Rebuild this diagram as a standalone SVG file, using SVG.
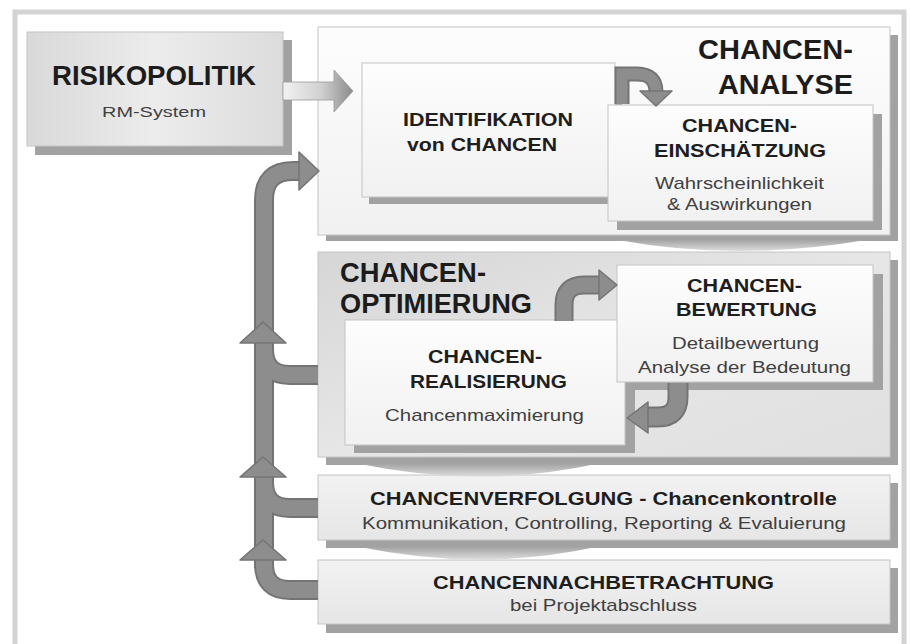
<svg xmlns="http://www.w3.org/2000/svg" width="910" height="644" viewBox="0 0 910 644">
<defs>
<linearGradient id="gRisk" x1="0" y1="0" x2="1" y2="0">
<stop offset="0" stop-color="#d9d9d9"/><stop offset="0.5" stop-color="#ececec"/><stop offset="1" stop-color="#dcdcdc"/>
</linearGradient>
<linearGradient id="gWhite" x1="0" y1="0" x2="0" y2="1">
<stop offset="0" stop-color="#fdfdfd"/><stop offset="1" stop-color="#f1f1f1"/>
</linearGradient>
<linearGradient id="gOpt" x1="0" y1="0" x2="1" y2="1">
<stop offset="0" stop-color="#d6d6d6"/><stop offset="0.5" stop-color="#e6e6e6"/><stop offset="1" stop-color="#e0e0e0"/>
</linearGradient>
<linearGradient id="gBar" x1="0" y1="0" x2="0" y2="1">
<stop offset="0" stop-color="#f2f2f2"/><stop offset="1" stop-color="#e6e6e6"/>
</linearGradient>
<linearGradient id="gArrow" x1="0" y1="0" x2="1" y2="0">
<stop offset="0" stop-color="#f2f2f2"/><stop offset="0.55" stop-color="#d0d0d0"/><stop offset="1" stop-color="#8a8a8a"/>
</linearGradient>
<linearGradient id="gWedge" x1="0" y1="0" x2="0" y2="1">
<stop offset="0" stop-color="#a4a4a4"/><stop offset="1" stop-color="#dcdcdc"/>
</linearGradient>
</defs>
<style>
.sh{fill:#a2a2a2}
.bx{stroke:#c4c4c4;stroke-width:1}
.big{font-family:"Liberation Sans",Arial,sans-serif;font-weight:bold;font-size:27px;fill:#1c1c1c}
.hd{font-family:"Liberation Sans",Arial,sans-serif;font-weight:bold;font-size:19px;fill:#1e1e1e}
.bd{font-family:"Liberation Sans",Arial,sans-serif;font-size:17px;fill:#404040}
.ao{fill:none;stroke:#747474;stroke-width:20}
.af{fill:none;stroke:#8d8d8d;stroke-width:16}
.ah{fill:#8d8d8d;stroke:#747474;stroke-width:1.5;stroke-linejoin:round}
</style>
<rect x="0" y="0" width="910" height="644" fill="#ffffff"/>
<rect x="15" y="12" width="889" height="660" fill="#ffffff" stroke="#d3d3d3" stroke-width="5"/>

<g id="node-analyse">
<rect class="sh" x="326" y="35" width="572" height="206"/>
<rect class="bx" x="318" y="27" width="572" height="208" fill="url(#gWhite)"/>
<text class="big" x="698" y="59" textLength="155" lengthAdjust="spacingAndGlyphs">CHANCEN-</text>
<text class="big" x="718" y="94" textLength="135" lengthAdjust="spacingAndGlyphs">ANALYSE</text>
</g>

<g id="node-optimierung">
<rect class="sh" x="326" y="260" width="572" height="205"/>
<rect class="bx" x="318" y="252" width="572" height="205" fill="url(#gOpt)"/>
<text class="big" x="340" y="282" textLength="146" lengthAdjust="spacingAndGlyphs">CHANCEN-</text>
<text class="big" x="340" y="313" textLength="192" lengthAdjust="spacingAndGlyphs">OPTIMIERUNG</text>
</g>

<g id="node-verfolgung">
<rect class="sh" x="326" y="483" width="572" height="65"/>
<rect class="bx" x="318" y="475" width="572" height="65" fill="url(#gBar)"/>
<text class="hd" x="370" y="505" textLength="467" lengthAdjust="spacingAndGlyphs">CHANCENVERFOLGUNG - Chancenkontrolle</text>
<text class="bd" x="362" y="529" textLength="484" lengthAdjust="spacingAndGlyphs">Kommunikation, Controlling, Reporting &amp; Evaluierung</text>
</g>

<g id="node-nachbetrachtung">
<rect class="sh" x="326" y="568" width="572" height="65"/>
<rect class="bx" x="318" y="560" width="572" height="64" fill="url(#gBar)"/>
<text class="hd" x="433" y="589" textLength="341" lengthAdjust="spacingAndGlyphs">CHANCENNACHBETRACHTUNG</text>
<text class="bd" x="510" y="611" textLength="187" lengthAdjust="spacingAndGlyphs">bei Projektabschluss</text>
</g>

<g id="node-risikopolitik">
<rect class="sh" x="35" y="40" width="257" height="115"/>
<rect class="bx" x="27" y="32" width="256" height="114" fill="url(#gRisk)"/>
<text class="big" x="52" y="85" textLength="204" lengthAdjust="spacingAndGlyphs">RISIKOPOLITIK</text>
<text class="bd" x="102" y="117" textLength="104" lengthAdjust="spacingAndGlyphs" style="font-size:15px">RM-System</text>
</g>

<g id="node-identifikation">
<rect class="sh" x="369" y="70" width="253" height="134"/>
<rect class="bx" x="362" y="63" width="253" height="134" fill="url(#gWhite)"/>
<text class="hd" x="403" y="126" textLength="170" lengthAdjust="spacingAndGlyphs">IDENTIFIKATION</text>
<text class="hd" x="407" y="151" textLength="150" lengthAdjust="spacingAndGlyphs">von CHANCEN</text>
</g>

<g id="node-einschaetzung">
<rect class="sh" x="617" y="114" width="265" height="116"/>
<rect class="bx" x="608" y="105" width="265" height="116" fill="url(#gWhite)"/>
<text class="hd" x="682" y="132" textLength="115" lengthAdjust="spacingAndGlyphs">CHANCEN-</text>
<text class="hd" x="654" y="157" textLength="172" lengthAdjust="spacingAndGlyphs">EINSCHÄTZUNG</text>
<text class="bd" x="655" y="189" textLength="169" lengthAdjust="spacingAndGlyphs">Wahrscheinlichkeit</text>
<text class="bd" x="667" y="210" textLength="145" lengthAdjust="spacingAndGlyphs">&amp; Auswirkungen</text>
</g>

<g id="node-realisierung">
<rect class="sh" x="354" y="328" width="281" height="125"/>
<rect class="bx" x="345" y="320" width="280" height="125" fill="url(#gWhite)"/>
<text class="hd" x="428" y="363" textLength="114" lengthAdjust="spacingAndGlyphs">CHANCEN-</text>
<text class="hd" x="410" y="388" textLength="157" lengthAdjust="spacingAndGlyphs">REALISIERUNG</text>
<text class="bd" x="385" y="421" textLength="199" lengthAdjust="spacingAndGlyphs">Chancenmaximierung</text>
</g>

<g id="node-bewertung">
<rect class="sh" x="627" y="274" width="256" height="116"/>
<rect class="bx" x="617" y="265" width="256" height="117" fill="url(#gWhite)"/>
<text class="hd" x="687" y="292" textLength="115" lengthAdjust="spacingAndGlyphs">CHANCEN-</text>
<text class="hd" x="676" y="316" textLength="141" lengthAdjust="spacingAndGlyphs">BEWERTUNG</text>
<text class="bd" x="672" y="349" textLength="147" lengthAdjust="spacingAndGlyphs">Detailbewertung</text>
<text class="bd" x="638" y="373" textLength="213" lengthAdjust="spacingAndGlyphs">Analyse der Bedeutung</text>
</g>

<g id="connectors">
<path d="M618,240 Q737,262 866,240 Z" fill="url(#gWedge)"/>
<path d="M360,464 Q480,489 596,464 Z" fill="url(#gWedge)"/>
<path d="M360,547 Q480,572 596,547 Z" fill="url(#gWedge)"/>

<path d="M283,82 L334,82 L334,70 L353,91 L334,112 L334,100 L283,100 Z" fill="url(#gArrow)" stroke="#9a9a9a" stroke-width="0.8"/>

<path class="ao" d="M264,568 L264,200 Q264,171 293,171 L301,171"/>
<path class="ao" d="M318,375 L290,375 Q264,375 264,349 L264,342"/>
<path class="ao" d="M318,508 L290,508 Q264,508 264,482 L264,476"/>
<path class="ao" d="M318,590 L290,590 Q264,590 264,564 L264,559"/>
<path class="ao" style="stroke-width:15" d="M622,104 L622,74 L637,74 Q656,74 656,92"/>
<path class="ao" style="stroke-width:19" d="M564,321 L564,305 Q564,285 584,285 L600,285"/>
<path class="ao" style="stroke-width:21" d="M678,383 L678,397 Q678,417 658,417 L647,417"/>
<path class="af" d="M264,568 L264,200 Q264,171 293,171 L301,171"/>
<path class="af" d="M318,375 L290,375 Q264,375 264,349 L264,342"/>
<path class="af" d="M318,508 L290,508 Q264,508 264,482 L264,476"/>
<path class="af" d="M318,590 L290,590 Q264,590 264,564 L264,559"/>
<path class="af" style="stroke-width:11" d="M622,104 L622,74 L637,74 Q656,74 656,92"/>
<path class="af" style="stroke-width:15" d="M564,321 L564,305 Q564,285 584,285 L600,285"/>
<path class="af" style="stroke-width:17" d="M678,383 L678,397 Q678,417 658,417 L647,417"/>
<polygon class="ah" points="299,152 319,171 299,190"/>
<polygon class="ah" points="240,343 263,322 286,343"/>
<polygon class="ah" points="240,477 263,457 286,477"/>
<polygon class="ah" points="240,560 263,540 286,560"/>
<polygon class="ah" points="640,91 672,91 656,106"/>
<polygon class="ah" points="599,270 617,285 599,300"/>
<polygon class="ah" points="648,402 627,418 648,433"/>
</g>
</svg>
